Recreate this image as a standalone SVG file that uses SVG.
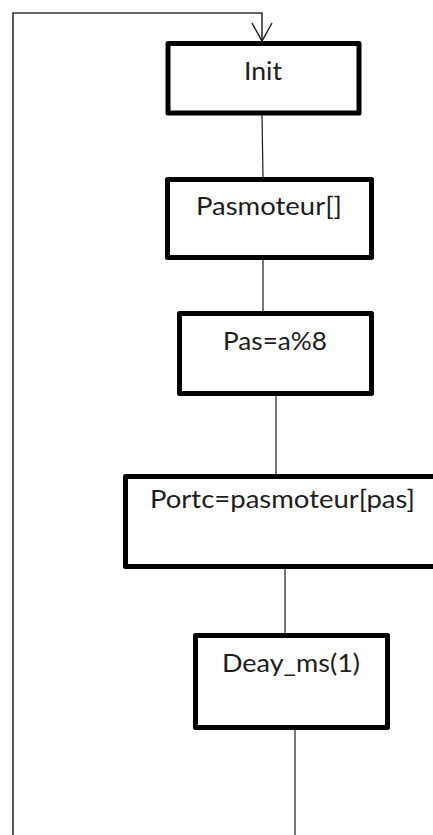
<svg xmlns="http://www.w3.org/2000/svg" width="433" height="835" viewBox="0 0 433 835">
  <style>
    .box { fill: #ffffff; stroke: #000000; stroke-width: 5; stroke-linejoin: round; }
    .lbl { font-family: Lato, "Open Sans", "Liberation Sans", sans-serif; font-size: 25px; fill: #1c1c1c; }
    .wire { fill: none; stroke: #1a1a1a; stroke-width: 1.2; }
    .loop { fill: none; stroke: #333333; stroke-width: 1.6; }
  </style>
  <defs>
    <marker id="openArrow" markerWidth="24" markerHeight="24" refX="20" refY="11" orient="auto" markerUnits="userSpaceOnUse">
      <path d="M2,1 L20,11 L2,21" fill="none" stroke="#1a1a1a" stroke-width="1.4"/>
    </marker>
  </defs>
  <rect width="433" height="835" fill="#ffffff"/>

  <!-- connectors -->
  <g id="connectors">
    <path class="loop" d="M13,835 L13,13 L262,13 L262,41" marker-end="url(#openArrow)"/>
    <line class="wire" x1="262" y1="115" x2="263" y2="177"/>
    <line class="wire" x1="263" y1="260" x2="263" y2="311"/>
    <line class="wire" x1="276" y1="396" x2="276" y2="474"/>
    <line class="wire" x1="285" y1="569" x2="285" y2="633"/>
    <line class="wire" x1="295" y1="730" x2="295" y2="835"/>
  </g>

  <!-- steps -->
  <g id="init">
    <rect class="box" x="168" y="43.5" width="191" height="69.5"/>
    <text class="lbl" x="263" y="80" text-anchor="middle" textLength="38" lengthAdjust="spacingAndGlyphs">Init</text>
  </g>
  <g id="pasmoteur">
    <rect class="box" x="167.5" y="179.5" width="204" height="78"/>
    <text class="lbl" x="196" y="215" textLength="146" lengthAdjust="spacingAndGlyphs">Pasmoteur[]</text>
  </g>
  <g id="pas">
    <rect class="box" x="179.5" y="313.5" width="192" height="80"/>
    <text class="lbl" x="223" y="350" textLength="104" lengthAdjust="spacingAndGlyphs">Pas=a%8</text>
  </g>
  <g id="portc">
    <rect class="box" x="125.5" y="476.5" width="320" height="90"/>
    <text class="lbl" x="150" y="508" textLength="265" lengthAdjust="spacingAndGlyphs">Portc=pasmoteur[pas]</text>
  </g>
  <g id="delay">
    <rect class="box" x="195.5" y="635.5" width="192" height="92"/>
    <text class="lbl" x="222" y="672" textLength="138" lengthAdjust="spacingAndGlyphs">Deay_ms(1)</text>
  </g>
</svg>
